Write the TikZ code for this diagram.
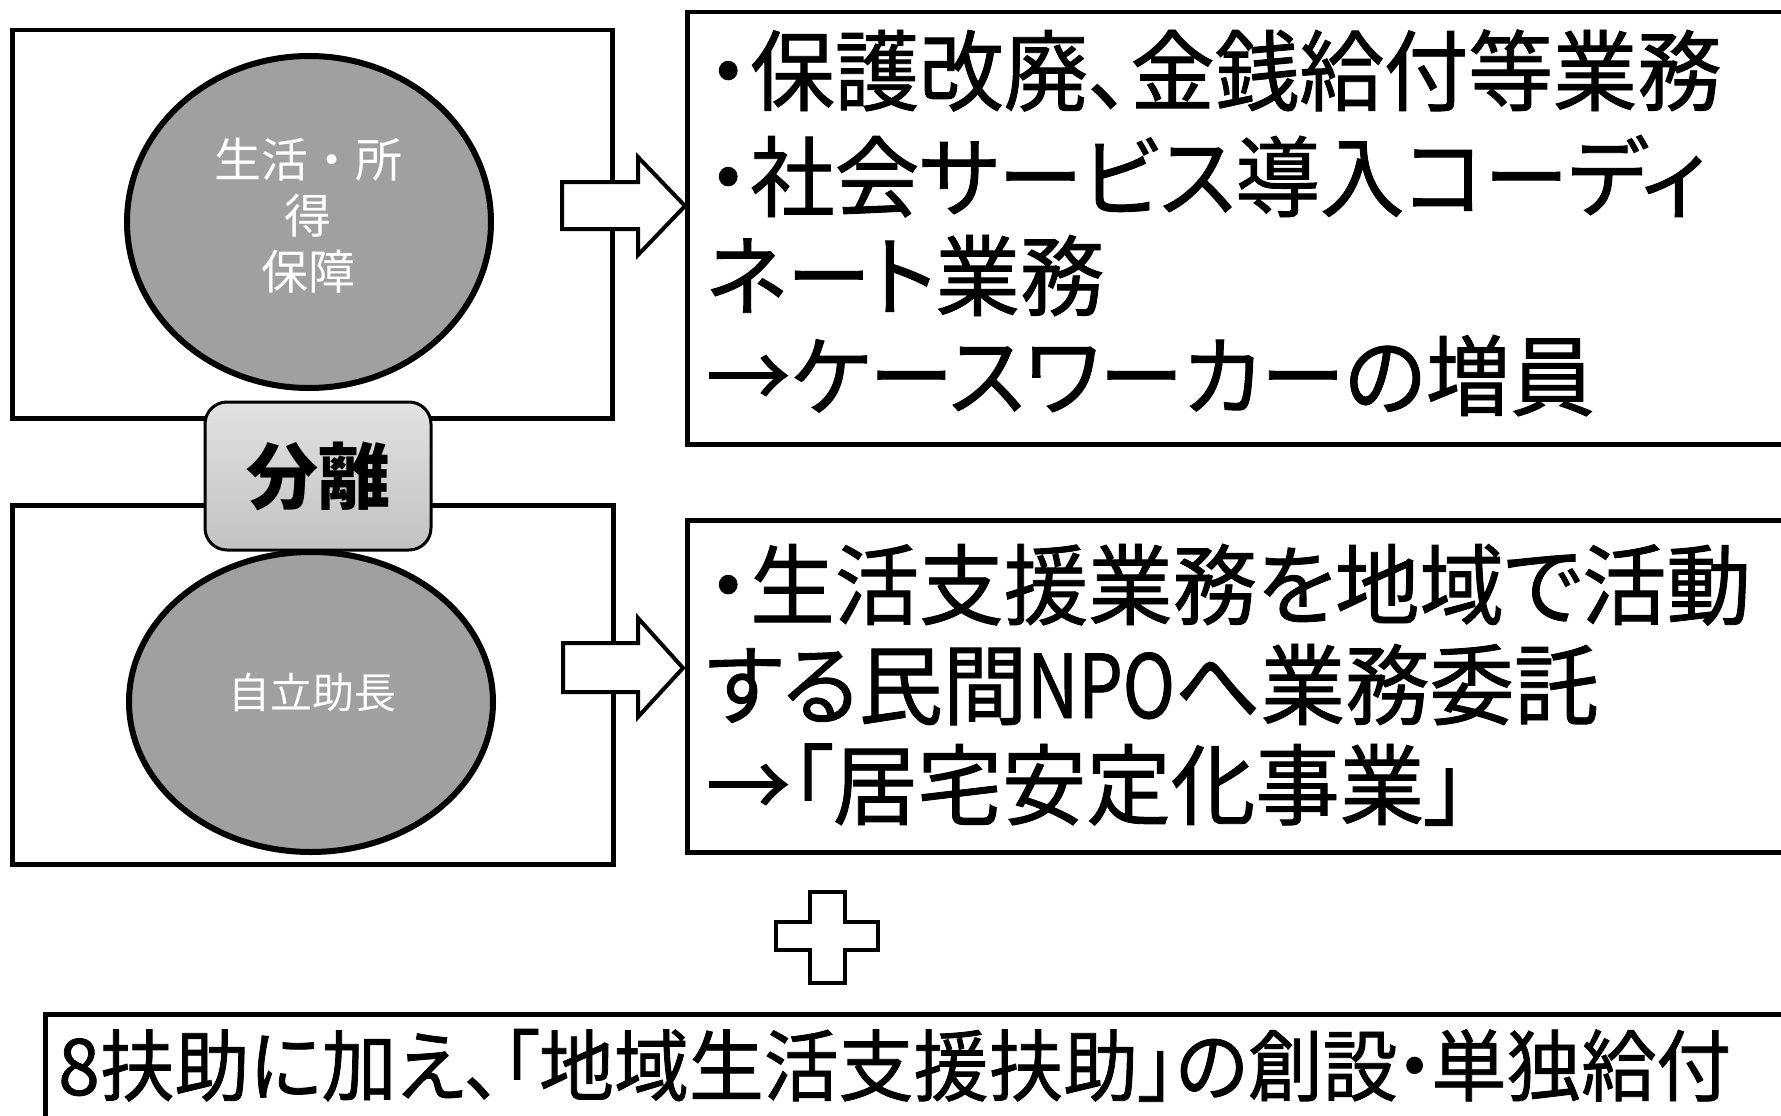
\documentclass[tikz,border=0pt]{standalone}
\usepackage{fontspec}
\newfontfamily\jp[FakeStretch=0.96, FakeBold=1, RawFeature={+palt}]{Noto Sans CJK JP}
\newfontfamily\jpnarrow[FakeStretch=0.8, FakeBold=1]{Noto Sans CJK JP}
\newfontfamily\jpn{Noto Sans CJK JP}
\usetikzlibrary{shapes.geometric}
\definecolor{ellfill}{HTML}{A0A0A0}
\definecolor{septop}{HTML}{E2E2E2}
\definecolor{sepbot}{HTML}{C2C2C2}
\begin{document}
\begin{tikzpicture}[x=1pt,y=-1pt,
  box/.style={draw, line width=4.5pt, fill=white, inner sep=0pt, anchor=north west},
  ell/.style={ellipse, draw, line width=6pt, fill=ellfill, inner sep=0pt},
  blockarrow/.style={draw, line width=4pt, fill=white, line join=miter},
  bigtxt/.style={anchor=base west, inner sep=0pt, font=\jp\fontsize{88}{100}\selectfont},
  bottxt/.style={anchor=base west, inner sep=0pt, font=\jp\fontsize{78}{90}\selectfont},
  elltxt/.style={text=white, align=center, inner sep=0pt}
]
\useasboundingbox (0,0) rectangle (1781,1116);
\clip (0,0) rectangle (1781,1116);
\fill[white] (0,0) rectangle (1781,1116);

% left boxes
\node[box, minimum width=600pt, minimum height=388pt] (tlbox) at (10,28) {};
\node[box, minimum width=601pt, minimum height=359pt] (blbox) at (10,503) {};

% ellipses
\node[ell, minimum width=364pt, minimum height=332pt] (ellA) at (309,222) {};
\node[elltxt, font=\jpn\fontsize{47}{56}\selectfont] (ellAt) at (308,216) {生活・所\\得\\保障};
\node[ell, minimum width=364pt, minimum height=300pt] (ellB) at (311,702) {};
\node[elltxt, font=\jpn\fontsize{42}{50}\selectfont] (ellBt) at (312,693) {自立助長};

% block arrows
\draw[blockarrow] (562,182) -- (638,182) -- (638,157) -- (685,206) -- (638,255) -- (638,229) -- (562,229) -- cycle;
\draw[blockarrow] (563,643) -- (638,643) -- (638,618) -- (683,668) -- (638,717) -- (638,692) -- (563,692) -- cycle;

% right boxes
\node[box, minimum width=1200pt, minimum height=432pt] (trbox) at (685,10) {};
\node[box, minimum width=1200pt, minimum height=332pt] (brbox) at (685,518) {};
\node[box, minimum width=1800pt, minimum height=200pt] (botbox) at (43,1012) {};

% separator box
\node[draw, line width=3pt, rounded corners=22pt, top color=septop, bottom color=sepbot,
      minimum width=226pt, minimum height=148pt, inner sep=0pt,
      font=\jpn\bfseries\fontsize{72}{80}\selectfont] (sep) at (318,476) {分離};

% texts top right
\node[bigtxt] (r1) at (706,104) {\makebox[44pt][c]{・}保護改廃、金銭給付等業務};
\node[bigtxt] (r2) at (706,210) {\makebox[44pt][c]{・}社会サービス導入コーディ};
\node[bigtxt] (r3) at (706,309) {ネート業務};
\node[bigtxt] (r4) at (706,409) {→ケースワーカーの増員};

% texts bottom right
\node[bigtxt] (s1) at (706,618) {\makebox[44pt][c]{・}生活支援業務を地域で活動};
\node[bigtxt] (s2) at (706,718) {する民間{\jpnarrow NPO}へ業務委託};
\node[bigtxt] (s3) at (706,818) {→「居宅安定化事業」};

% plus sign
\draw[blockarrow] (810,892) -- (845,892) -- (845,922) -- (878,922) -- (878,950) -- (845,950) -- (845,983) -- (810,983) -- (810,950) -- (776,950) -- (776,922) -- (810,922) -- cycle;

% bottom text
\node[bottxt] (b1) at (58,1095) {8扶助に加え、「地域生活支援扶助」の創設\makebox[34pt][c]{・}単独給付};
\end{tikzpicture}
\end{document}
